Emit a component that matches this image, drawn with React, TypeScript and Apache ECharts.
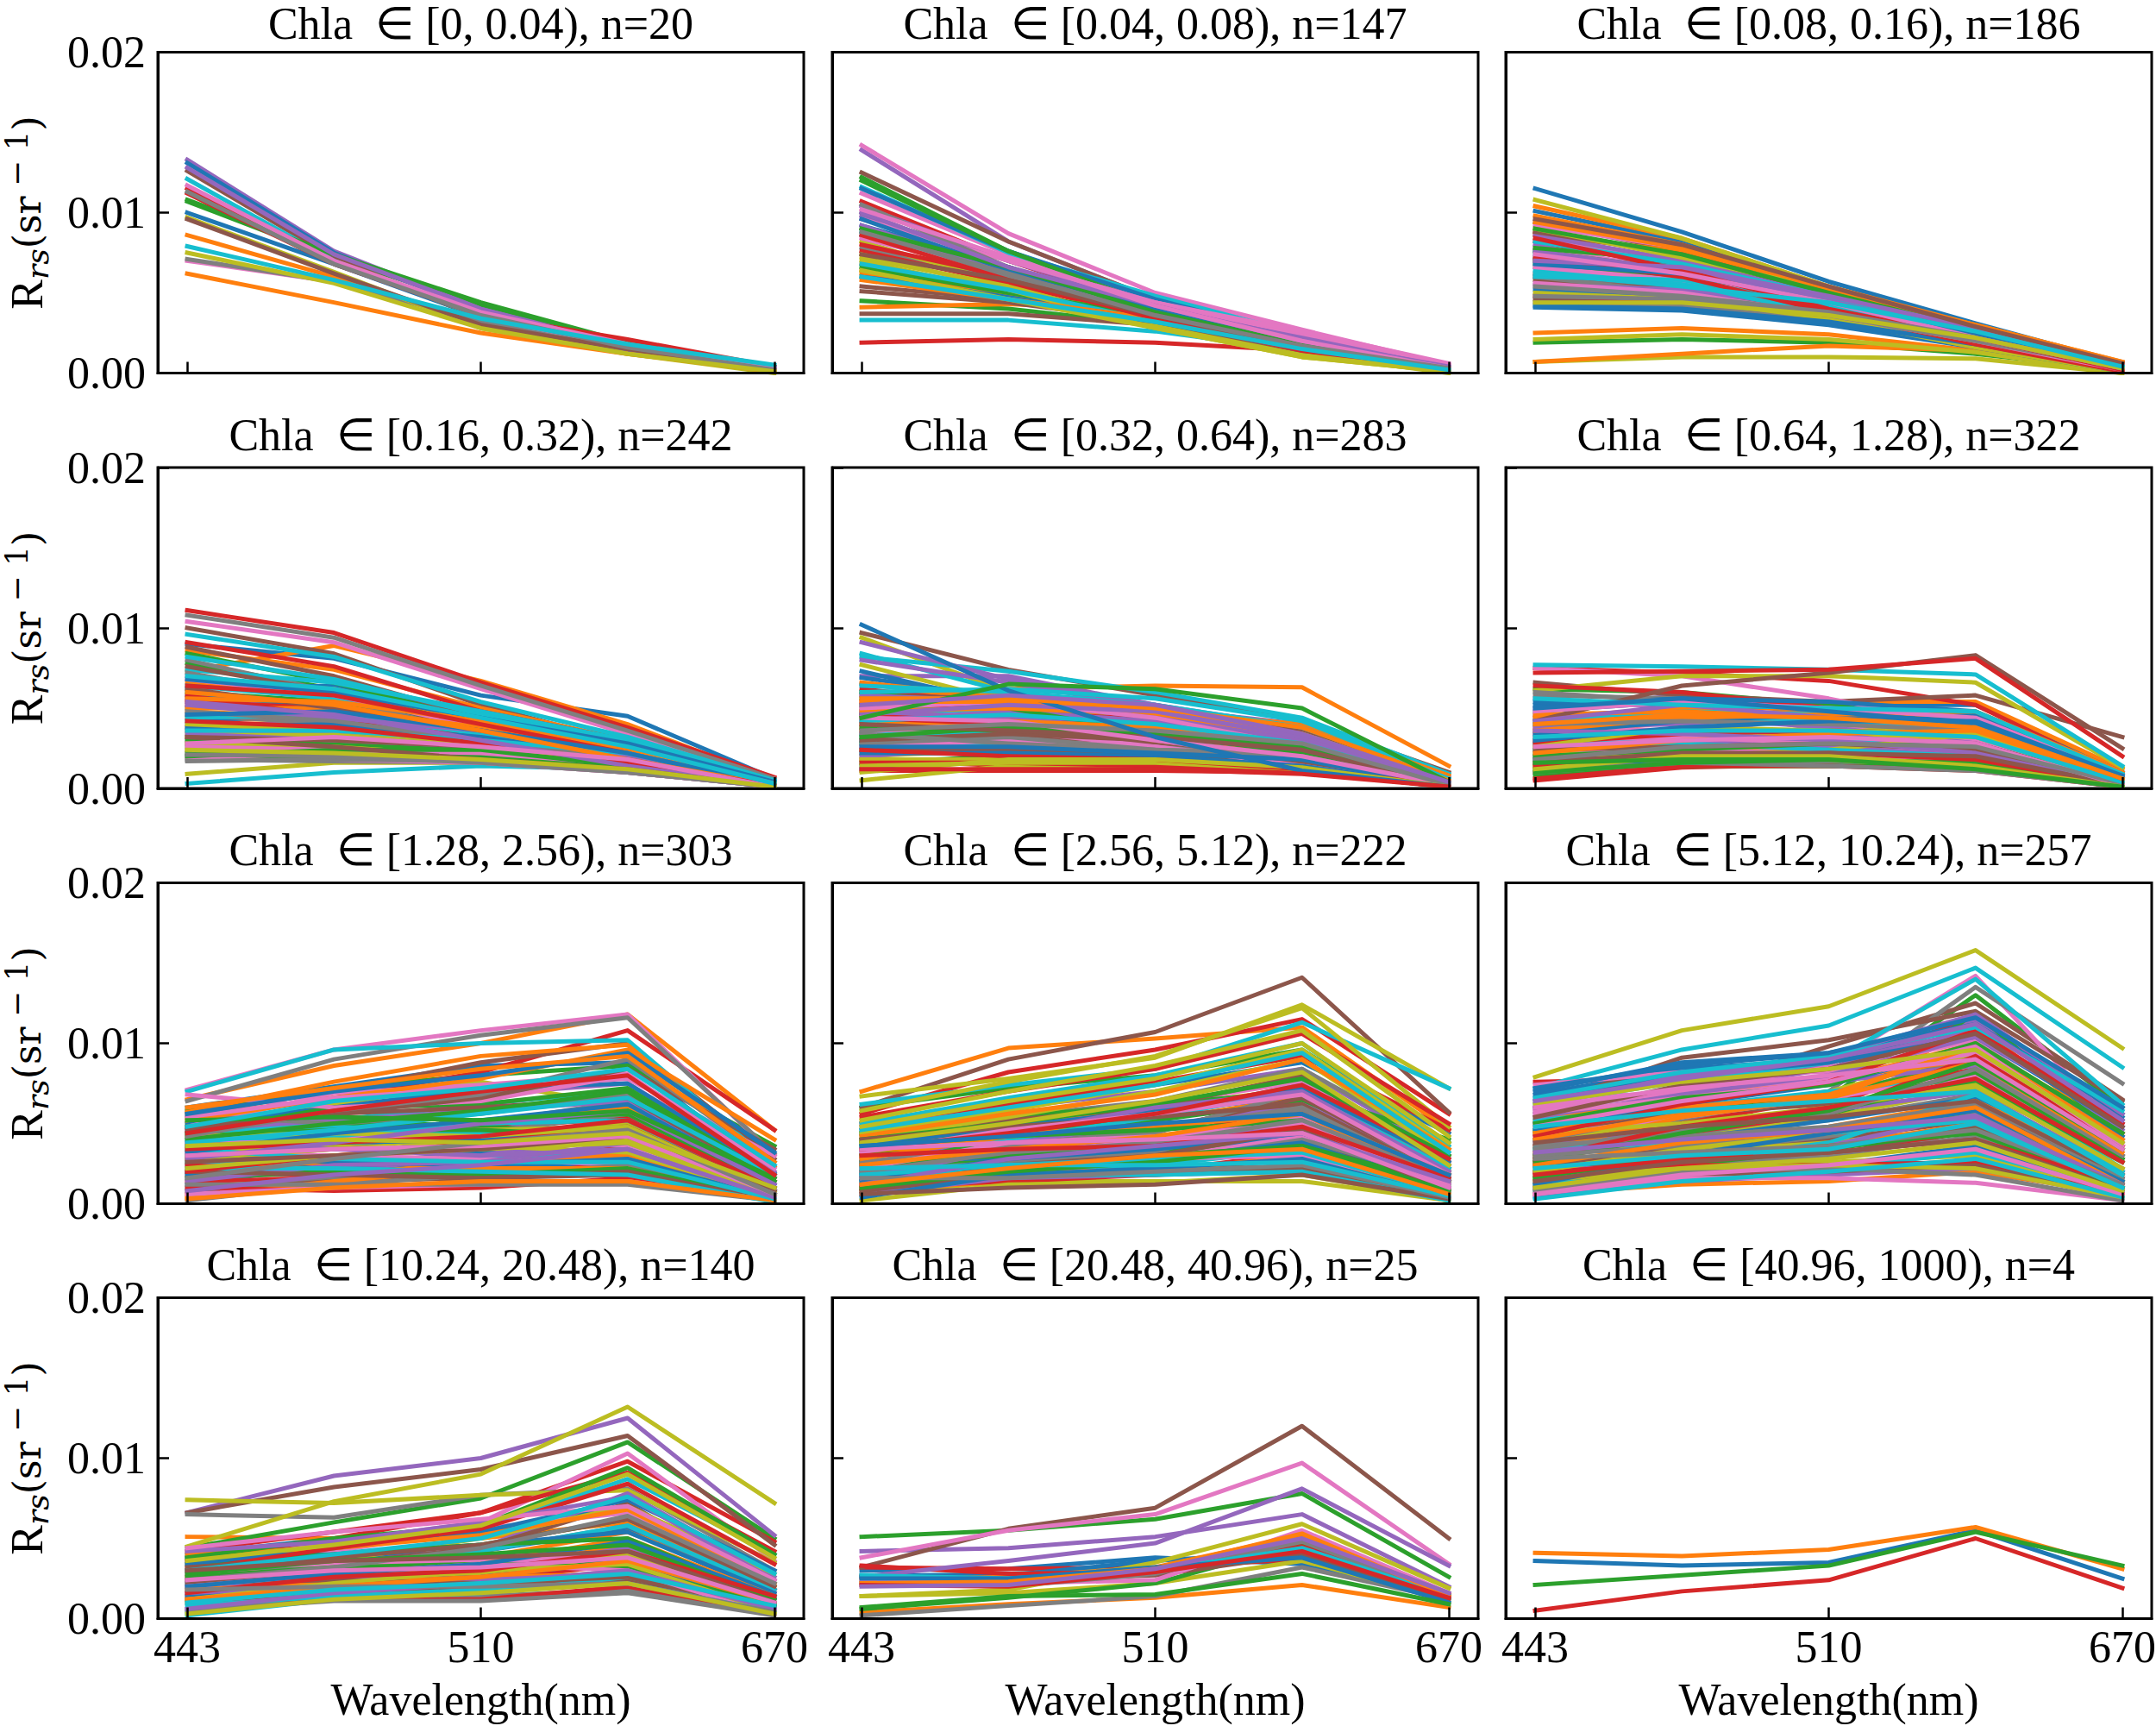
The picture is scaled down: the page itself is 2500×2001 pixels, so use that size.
import React, { useEffect, useRef } from "react";
import * as echarts from "echarts";

// Values are Rrs in units of 1e-4 sr^-1, at the five band positions.
const bandPositions = [0, 1, 2, 3, 4];
const bandTickPositions = [0, 2, 4];
const bandTickLabels = ["443", "510", "670"];
const palette = ["#1f77b4", "#ff7f0e", "#2ca02c", "#d62728", "#9467bd", "#8c564b", "#e377c2", "#7f7f7f", "#bcbd22", "#17becf"];
const chlaRanges = ["[0, 0.04)", "[0.04, 0.08)", "[0.08, 0.16)", "[0.16, 0.32)", "[0.32, 0.64)", "[0.64, 1.28)", "[1.28, 2.56)", "[2.56, 5.12)", "[5.12, 10.24)", "[10.24, 20.48)", "[20.48, 40.96)", "[40.96, 1000)"];
const sampleCounts = [20, 147, 186, 242, 283, 322, 303, 222, 257, 140, 25, 4];

const panel1 = [
  [100,68,35,15,2],[86,60,30,13,2],[107,72,42,18,3],[115,70,37,20,3],[133,76,40,17,3],[126,72,34,14,2],[70,57,32,15,3],[71,57,32,14,2],[97,63,28,12,0],[121,70,35,17,4],
  [131,75,39,16,3],[62,44,25,12,1],[108,74,44,19,3],[112,68,36,21,4],[128,74,40,16,3],[96,62,30,15,2],[117,70,38,18,3],[113,68,36,16,2],[75,56,28,12,1],[79,58,34,18,5],
];
const panel2 = [
  [86,60,36,16,2],[68,50,33,14,2],[45,40,30,14,2],[19,21,19,14,3],[139,82,46,22,4],[125,82,46,20,3],[142,87,50,27,5],[78,58,34,14,2],[82,55,28,10,1],[33,33,26,14,2],
  [92,66,38,16,3],[41,43,39,22,4],[122,76,44,22,3],[107,70,40,18,3],[98,70,42,20,3],[37,37,30,13,1],[112,74,44,24,5],[100,66,38,18,2],[70,50,30,12,1],[116,75,48,24,4],
  [115,76,46,22,4],[62,48,32,15,2],[120,76,42,18,3],[76,56,34,16,3],[104,70,44,22,4],[54,46,36,16,2],[96,70,44,24,4],[105,66,36,16,2],[72,54,30,12,0],[88,64,40,20,3],
  [60,48,34,15,2],[64,50,36,18,3],[66,50,36,20,3],[80,60,38,16,2],[92,62,40,22,3],[51,44,32,14,2],[84,62,44,26,6],[90,60,34,14,1],[74,52,28,10,1],[68,52,32,16,2],
  [96,64,40,18,3],[58,46,34,18,3],[90,66,38,18,2],[86,58,34,14,1],[100,66,42,20,4],[74,58,36,16,1],[102,72,42,20,3],[88,62,36,17,3],[64,46,28,11,1],[60,46,32,15,2],
];
const panel3 = [
  [115,88,57,31,6],[25,28,24,14,2],[19,21,19,12,2],[88,66,44,24,3],[72,60,42,22,3],[94,76,52,28,5],[92,78,52,26,4],[60,52,38,20,2],[7,10,10,9,0],[76,60,40,20,2],
  [101,82,52,26,4],[7,12,17,14,1],[71,62,46,24,3],[82,66,44,22,2],[80,60,40,22,3],[58,52,40,22,3],[86,68,46,24,4],[60,50,36,18,1],[21,24,21,13,0],[74,66,46,24,4],
  [52,48,36,18,2],[104,84,54,30,7],[68,60,42,22,4],[62,54,38,20,2],[55,52,40,24,4],[70,64,48,26,5],[78,64,42,20,2],[66,56,40,22,3],[108,84,54,28,5],[64,56,36,18,2],
  [41,39,30,16,1],[94,78,52,26,4],[76,64,44,24,4],[48,44,34,18,2],[76,64,46,26,5],[46,42,34,18,2],[66,58,44,24,3],[44,42,34,18,1],[50,46,34,16,1],[60,58,42,22,3],
  [42,40,32,18,2],[86,76,50,28,6],[78,70,50,26,4],[72,60,38,18,1],[86,70,48,28,4],[88,74,50,28,6],[56,50,36,20,2],[48,46,36,20,3],[90,72,52,28,5],[82,68,48,26,3],
  [68,62,44,24,3],[98,80,52,30,7],[90,74,50,27,4],[84,64,40,22,2],[70,66,48,28,5],[96,80,54,29,6],[74,62,44,22,3],[54,48,38,22,3],[44,44,36,22,3],[62,54,44,26,4],
];
const panel4 = [
  [90,81,58,45,6],[73,89,67,40,5],[78,62,38,18,3],[111,97,66,38,7],[40,40,30,16,2],[100,84,52,28,3],[104,91,62,34,4],[108,94,64,36,6],[9,16,16,11,1],[3,10,14,12,2],
  [62,64,46,26,3],[86,74,50,30,4],[84,66,42,24,3],[91,76,48,30,5],[30,30,24,12,1],[88,70,44,26,3],[70,60,36,18,2],[18,17,16,10,1],[36,38,30,18,2],[96,82,54,32,5],
  [50,52,40,26,4],[66,62,42,24,3],[26,26,22,12,1],[55,52,36,20,2],[46,42,30,15,1],[38,34,24,12,1],[24,20,17,10,1],[80,60,38,20,2],[32,32,26,16,2],[74,66,48,30,5],
  [58,50,40,24,3],[44,42,32,18,2],[60,54,36,20,3],[52,46,32,18,2],[56,48,36,22,3],[28,28,22,12,1],[22,18,16,10,1],[72,56,34,18,2],[34,34,28,18,2],[64,56,40,24,4],
  [42,46,38,24,3],[48,44,36,22,3],[20,20,18,12,1],[54,50,34,16,1],[36,36,28,16,1],[76,60,36,20,2],[68,58,38,20,2],[46,40,28,14,1],[24,26,22,14,1],[82,68,46,28,4],
  [68,60,44,28,4],[50,50,38,20,2],[30,28,24,14,1],[58,44,30,16,2],[34,30,26,14,1],[62,50,36,22,3],[19,22,18,11,1],[17,18,17,10,1],[28,26,20,12,1],[44,46,34,20,2],
  [38,40,32,20,2],[56,54,42,24,3],[22,24,20,14,1],[64,58,40,22,2],[52,44,36,20,2],[32,30,26,18,2],[26,24,22,15,1],[48,42,30,18,1],[40,36,28,14,1],[36,36,30,22,2],
  [46,48,36,22,2],[60,52,36,18,2],[20,24,24,14,1],[42,38,28,16,2],[54,46,30,14,1],[32,26,18,12,1],[28,32,26,18,1],[21,20,16,10,1],[24,22,18,12,1],[70,62,44,26,3],
];
const panel5 = [
  [65,56,46,30,4],[52,62,64,63,14],[47,44,36,26,2],[11,11,11,10,2],[70,70,52,36,5],[97,74,58,42,10],[48,46,36,24,3],[42,36,26,16,2],[94,60,38,20,3],[82,73,60,44,9],
  [69,56,44,32,4],[60,58,46,34,5],[52,50,42,30,4],[62,52,44,30,3],[91,68,52,38,7],[58,56,48,36,6],[44,48,34,22,2],[30,32,28,20,2],[77,54,36,18,2],[84,60,32,12,2],
  [73,52,40,26,3],[38,34,30,20,2],[56,48,40,28,4],[54,50,42,30,3],[80,66,50,40,6],[50,56,50,38,6],[40,38,32,20,2],[36,34,28,22,2],[24,26,24,16,1],[46,50,46,34,4],
  [30,28,24,14,1],[66,56,48,40,8],[28,30,26,18,1],[46,44,38,24,3],[42,48,42,28,3],[34,32,28,18,1],[38,44,30,18,2],[26,28,26,18,2],[20,24,22,14,1],[64,60,52,38,6],
  [14,18,18,12,1],[36,38,30,22,2],[60,50,34,22,2],[18,14,12,10,1],[48,44,36,28,3],[22,22,20,14,1],[34,36,26,16,1],[32,30,24,16,2],[5,14,14,10,1],[28,26,22,16,2],
  [12,22,22,12,1],[40,42,38,30,3],[16,20,20,14,1],[44,40,34,26,3],[20,26,24,20,2],[24,24,20,16,1],[26,30,26,14,1],[28,32,24,22,3],[18,18,16,10,1],[33,36,32,24,3],
  [22,22,20,14,1],[48,50,46,30,3],[38,36,34,22,2],[16,16,14,10,1],[58,54,44,30,4],[30,34,30,20,2],[50,54,44,26,2],[34,28,24,20,2],[14,16,16,12,1],[42,46,40,28,3],
  [26,26,22,18,1],[54,54,48,34,4],[32,38,34,26,3],[24,20,18,12,2],[46,52,48,32,3],[40,36,32,24,2],[44,42,30,20,2],[36,40,36,28,2],[10,18,18,13,1],[60,62,56,42,6],
  [102,61,32,11,1],[56,56,50,38,5],[44,65,62,50,4],[12,12,12,9,1],[52,58,52,34,4],
];
const panel6 = [
  [48,54,52,52,10],[40,50,54,54,12],[62,60,52,40,6],[75,72,67,52,8],[50,58,50,38,6],[66,58,54,58,32],[75,70,56,38,5],[44,48,46,34,4],[61,70,70,66,13],[77,76,74,71,14],
  [36,42,44,36,4],[32,42,48,46,8],[30,34,36,30,3],[64,60,50,32,4],[56,50,36,26,3],[28,30,34,30,4],[44,46,40,30,3],[58,56,46,34,3],[24,30,34,42,6],[20,26,30,38,5],
  [52,56,54,48,10],[38,46,48,44,8],[26,28,30,24,2],[30,28,26,20,2],[46,44,38,28,3],[34,32,30,28,3],[38,36,34,28,2],[60,54,48,40,6],[16,22,26,24,2],[40,44,42,36,6],
  [22,24,26,22,2],[44,50,50,46,9],[14,18,18,14,1],[10,18,20,16,2],[28,30,26,22,1],[18,20,22,18,1],[34,34,28,20,2],[12,16,18,18,1],[30,36,34,32,4],[42,48,46,40,7],
  [18,16,16,12,1],[26,26,24,18,1],[8,14,14,12,1],[5,13,15,13,1],[32,30,26,20,3],[20,22,20,14,2],[24,24,22,16,1],[16,18,16,16,2],[22,20,18,12,1],[28,32,30,26,3],
  [54,52,50,46,8],[46,48,44,40,5],[12,14,14,13,1],[6,14,14,11,1],[38,40,34,24,2],[42,64,72,83,25],[30,32,28,24,2],[10,16,14,11,1],[14,20,24,34,3],[24,28,24,20,2],
  [34,42,46,42,7],[36,44,46,48,10],[20,24,28,26,2],[28,34,36,34,5],[42,52,44,38,5],[24,26,28,24,3],[48,54,50,44,8],[40,42,40,36,4],[26,38,36,34,4],[56,52,50,48,9],
  [30,38,42,42,8],[22,30,34,36,5],[10,16,18,16,1],[14,20,22,18,2],[36,34,30,22,2],[16,22,22,20,2],[26,30,32,28,2],[18,26,28,26,3],[12,20,20,14,1],[32,36,36,32,4],
  [50,56,48,40,6],[40,46,44,38,6],[16,18,18,12,1],[72,73,74,81,20],
];
const panel7 = [
  [60,73,86,88,19],[65,86,100,118,46],[58,72,80,86,36],[54,66,82,108,46],[46,60,68,75,20],[56,70,88,100,28],[71,96,108,118,30],[64,90,105,116,31],[50,62,76,61,14],[70,96,100,102,24],
  [50,60,72,75,18],[57,76,92,99,23],[44,50,48,55,6],[28,40,48,53,10],[20,28,44,62,8],[36,40,38,50,6],[48,69,74,81,18],[24,36,50,64,8],[30,36,40,50,8],[42,52,62,71,10],
  [12,24,32,40,5],[38,44,50,60,6],[48,52,48,44,8],[18,18,22,36,6],[25,26,28,42,6],[32,40,46,48,5],[40,44,46,40,6],[34,36,44,56,7],[26,36,46,48,8],[44,48,44,38,6],
  [20,22,24,24,3],[6,18,26,32,4],[36,44,52,56,10],[14,16,16,26,3],[16,20,30,46,6],[28,34,34,40,4],[38,42,40,36,5],[10,16,24,28,4],[30,38,42,44,5],[26,28,28,34,4],
  [18,24,26,28,4],[22,26,24,30,3],[42,46,46,42,8],[24,20,18,18,2],[46,52,58,64,12],[8,14,16,18,2],[32,30,28,24,3],[2,12,18,24,3],[34,40,36,32,4],[40,42,50,52,8],
  [30,26,24,28,3],[4,14,22,22,2],[16,20,18,22,3],[10,8,10,16,2],[14,24,26,38,5],[20,18,16,20,2],[6,10,12,14,2],[12,12,12,12,2],[28,34,36,40,5],[22,22,20,18,1],
  [36,38,40,46,6],[3,10,14,14,2],[44,60,62,72,16],[20,30,38,48,8],[38,34,30,34,4],[48,56,60,66,14],[68,60,64,80,22],[55,50,56,68,16],[42,44,42,48,7],[34,28,26,26,3],
  [32,44,52,62,12],[52,66,78,96,40],[40,50,58,70,14],[34,38,42,52,10],[28,38,50,58,12],[46,56,66,84,34],[54,66,72,78,30],[42,58,68,90,26],[22,30,34,38,4],[38,46,56,66,18],
  [56,70,80,94,32],[60,72,84,92,26],[52,54,52,58,16],[44,58,70,80,18],[8,18,24,34,4],[26,30,34,42,8],[30,34,36,42,6],[16,28,38,46,6],[36,40,38,44,10],[48,64,72,84,24],
];
const panel8 = [
  [46,62,74,88,44],[70,97,103,110,46],[60,72,80,96,38],[56,82,96,115,56],[48,60,70,84,30],[60,90,107,141,57],[40,52,62,76,26],[42,54,64,84,34],[67,78,91,124,72],[62,74,84,113,72],
  [44,50,58,66,20],[34,50,60,72,24],[44,54,62,70,40],[50,62,76,92,46],[34,48,58,70,28],[38,52,60,80,22],[26,38,48,60,20],[30,46,56,74,24],[58,76,92,122,48],[50,66,80,100,36],
  [32,40,48,60,18],[30,44,52,66,20],[38,46,52,64,22],[20,28,40,62,14],[28,38,48,62,22],[24,36,46,66,18],[18,30,42,52,16],[22,36,44,70,26],[44,58,74,96,34],[28,40,54,70,22],
  [26,34,38,50,12],[22,30,36,44,14],[30,36,42,54,18],[16,24,32,46,12],[22,32,38,50,18],[12,22,28,40,10],[28,32,40,54,14],[18,30,36,58,20],[40,54,70,90,30],[20,28,34,48,16],
  [24,28,32,42,10],[14,20,24,36,10],[26,30,34,36,10],[12,16,20,32,8],[20,24,28,34,10],[10,16,20,28,6],[16,24,28,42,12],[14,20,26,40,14],[6,14,14,14,2],[16,22,24,34,8],
  [18,24,28,38,8],[8,14,20,30,6],[24,26,30,36,12],[10,14,18,24,6],[6,16,18,20,4],[8,18,18,22,4],[12,20,28,30,8],[20,26,32,60,18],[2,12,13,18,2],[14,18,18,20,2],
  [36,48,58,72,26],[42,56,68,90,34],[40,50,62,78,30],[54,70,84,106,50],[24,44,60,70,20],[40,48,54,62,16],[32,46,56,68,18],[26,36,46,60,14],[52,70,86,108,42],[46,60,74,94,32],
  [14,28,34,44,12],[28,42,48,56,14],[36,42,46,52,14],[34,44,56,74,28],[16,34,42,50,10],[8,24,30,46,8],[22,38,42,50,12],[20,32,38,52,16],[38,50,64,82,24],[18,24,28,32,6],
  [4,18,22,28,4],[24,34,42,56,18],[10,20,26,36,8],[30,34,36,48,16],[12,28,36,44,14],[6,10,12,18,3],[34,38,40,44,10],[16,16,20,24,4],[48,64,78,100,38],[22,24,24,26,5],
  [36,42,50,56,18],[12,22,30,34,6],
];
const panel9 = [
  [60,82,90,114,54],[30,46,60,112,40],[40,54,66,130,60],[76,78,84,116,48],[58,70,84,114,60],[50,70,98,125,65],[66,69,86,142,44],[45,58,70,135,75],[79,108,123,158,97],[72,96,111,147,85],
  [68,84,90,106,52],[52,66,76,100,44],[20,40,56,119,40],[30,44,60,96,36],[56,72,88,108,46],[60,91,102,120,64],[74,82,82,102,40],[40,52,66,92,34],[36,54,70,94,38],[62,76,88,140,62],
  [64,80,88,104,48],[48,66,78,90,30],[46,56,68,88,30],[36,50,66,84,34],[50,62,76,86,28],[44,56,62,72,26],[58,70,78,94,42],[32,44,52,68,20],[28,40,54,72,26],[52,60,70,78,22],
  [22,40,52,66,20],[18,36,48,64,22],[34,46,56,78,28],[20,32,42,60,18],[38,46,58,70,20],[26,34,40,52,16],[42,54,66,80,30],[24,32,42,56,16],[22,32,38,48,10],[10,26,38,68,20],
  [16,20,24,36,8],[12,24,36,50,12],[28,44,58,76,26],[14,22,28,46,14],[20,28,36,56,16],[24,26,30,48,10],[10,16,18,26,6],[18,24,30,42,10],[14,22,26,30,6],[12,18,22,32,8],
  [8,20,24,26,4],[6,12,14,20,6],[16,24,34,46,10],[20,24,24,26,6],[4,14,18,22,4],[10,18,20,24,4],[6,16,16,13,2],[8,20,22,18,2],[16,22,24,22,4],[3,14,20,28,4],
  [46,62,74,98,42],[32,54,66,100,36],[30,48,60,82,28],[26,44,56,92,36],[54,68,80,104,50],[24,34,46,60,14],[56,66,76,96,38],[36,42,48,62,18],[44,50,60,74,22],[34,38,44,52,14],
  [70,88,94,112,56],[44,60,68,98,40],[50,66,74,100,44],[42,62,76,108,50],[60,80,92,118,56],[54,74,84,106,48],[48,64,76,98,36],[34,46,56,84,30],[62,76,84,96,38],[66,82,92,110,58],
  [72,86,94,116,60],[40,56,66,88,32],[26,44,58,88,34],[28,48,60,78,26],[64,78,90,112,52],[38,48,54,64,18],[60,72,80,90,34],[30,36,44,58,16],[20,34,44,58,14],[48,58,64,70,18],
  [12,30,44,58,14],[24,38,46,60,12],[16,30,36,44,10],[18,28,32,40,12],[32,40,46,54,12],[14,26,32,40,8],[6,18,24,34,6],[28,32,36,46,12],[10,22,28,38,8],[22,30,34,50,10],
];
const panel10 = [
  [40,50,54,70,18],[51,50,50,60,20],[44,60,75,110,50],[42,54,66,98,48],[66,89,100,125,52],[66,82,93,114,46],[38,48,60,103,36],[65,63,77,81,30],[74,72,77,80,35],[38,44,56,87,40],
  [36,38,42,56,14],[32,34,38,54,20],[30,40,46,62,22],[36,50,66,91,42],[26,34,44,78,26],[24,34,44,72,18],[34,42,56,66,24],[28,34,42,58,16],[45,73,90,132,72],[22,30,42,58,18],
  [18,26,32,44,10],[30,28,30,46,14],[20,24,28,38,10],[14,18,22,30,6],[22,26,30,44,12],[24,26,26,34,8],[32,34,36,48,16],[10,14,18,26,6],[30,36,50,70,28],[4,16,22,36,10],
  [38,40,46,54,16],[26,30,34,50,14],[34,40,46,50,12],[16,20,24,34,8],[20,24,28,40,12],[12,16,20,24,4],[28,30,34,42,10],[6,12,14,18,4],[10,22,28,40,8],[2,12,16,26,6],
  [14,22,26,36,8],[18,22,26,28,6],[26,32,34,32,8],[12,12,12,20,4],[16,20,24,28,6],[22,24,22,26,4],[20,28,34,30,2],[5,11,11,16,2],[12,22,30,34,4],[8,14,18,22,4],
  [34,44,54,74,30],[40,44,52,68,22],[38,50,58,94,40],[30,44,56,84,34],[42,48,60,76,24],[32,38,46,62,20],[44,54,62,70,24],[24,32,44,64,22],[36,46,58,90,38],[30,40,50,76,28],
  [20,28,34,48,14],[12,20,26,36,10],[28,36,40,46,12],[16,26,30,42,14],[6,16,22,30,6],[30,36,38,42,10],[24,30,32,38,10],[18,20,20,22,4],[3,12,16,22,3],[10,18,22,28,8],
];
const panel11 = [
  [30,31,38,34,14],[4,9,13,21,7],[51,55,62,78,26],[32,31,32,37,14],[42,44,51,65,20],[32,56,69,120,50],[38,55,65,97,34],[2,8,14,32,12],[14,16,22,36,12],[26,28,31,46,13],
  [27,27,36,42,12],[24,26,32,52,15],[6,13,22,47,15],[33,28,29,45,15],[26,36,47,81,33],[26,24,27,40,12],[23,22,24,55,16],[22,20,28,48,14],[14,18,35,59,19],[27,25,30,44,14],
  [25,25,32,38,10],[22,23,31,53,14],[7,14,15,28,9],[21,20,29,42,13],[20,21,31,50,16],
];
const panel12 = [
  [36,33,35,55,25],[41,39,43,57,31],[21,27,33,54,33],[5,17,24,50,19],
];
const panels = [panel1, panel2, panel3, panel4, panel5, panel6, panel7, panel8, panel9, panel10, panel11, panel12];

const valueUnit = 10000;
const yTickFormat = (v: number) => v.toFixed(2);
const serif = "Liberation Serif";

function buildOption() {
  const lefts = [183, 965, 1746];
  const tops = [60.5, 542, 1023.5, 1504.5];
  const w = 749;
  const h = 372;
  const grid: any[] = [], xAxis: any[] = [], yAxis: any[] = [], title: any[] = [], series: any[] = [];
  panels.forEach((lines, p) => {
    const col = p % 3;
    const row = Math.floor(p / 3);
    grid.push({ left: lefts[col], top: tops[row], width: w, height: h, show: true, borderColor: "#000", borderWidth: 3, backgroundColor: "#fff", containLabel: false, outerBoundsMode: "none" });
    title.push({
      text: `Chla  ∈ ${chlaRanges[p]}, n=${sampleCounts[p]}`,
      left: lefts[col] + w / 2,
      top: row === 0 ? 6 : tops[row] - 59,
      textAlign: "center",
      textStyle: { fontFamily: serif, fontSize: 52, fontWeight: "normal", color: "#000", lineHeight: 42 },
      padding: 0,
    });
    xAxis.push({
      type: "value", gridIndex: p, min: -0.2, max: 4.2, z: 5,
      splitLine: { show: false },
      axisLine: { show: true, onZero: false, lineStyle: { color: "#000", width: 3 } },
      axisTick: { show: true, inside: true, length: 13, customValues: bandTickPositions, lineStyle: { color: "#000", width: 2.5 } },
      axisLabel: {
        show: row === 3, customValues: bandTickPositions, margin: 7, hideOverlap: false, showMinLabel: true, showMaxLabel: true,
        fontFamily: serif, fontSize: 52, color: "#000",
        formatter: (v: number) => bandTickLabels[bandTickPositions.indexOf(v)] ?? "",
      },
      name: row === 3 ? "Wavelength(nm)" : "",
      nameLocation: "middle", nameGap: 68,
      nameTextStyle: { fontFamily: serif, fontSize: 52, color: "#000" },
    });
    yAxis.push({
      type: "value", gridIndex: p, min: 0, max: 0.02, interval: 0.01, z: 5,
      splitLine: { show: false },
      axisLine: { show: true, onZero: false, lineStyle: { color: "#000", width: 3 } },
      axisTick: { show: true, inside: true, length: 13, lineStyle: { color: "#000", width: 2.5 } },
      axisLabel: { show: col === 0, margin: 14, fontFamily: serif, fontSize: 52, color: "#000", formatter: yTickFormat },
      name: col === 0 ? "{r|R}{s|rs}{m|(sr}{u| − 1}{m|)}" : "",
      nameLocation: "middle", nameGap: 122, nameRotate: 90,
      nameTextStyle: {
        color: "#000",
        rich: {
          r: { fontFamily: serif, fontSize: 52, lineHeight: 60, verticalAlign: "middle" },
          s: { fontFamily: "DejaVu Serif", fontStyle: "italic", fontSize: 36, lineHeight: 60, verticalAlign: "bottom" },
          m: { fontFamily: "DejaVu Serif", fontSize: 44, lineHeight: 60, verticalAlign: "middle" },
          u: { fontFamily: "DejaVu Serif", fontSize: 36, lineHeight: 60, verticalAlign: "top" },
        },
      },
    });
    lines.forEach((values, i) => {
      series.push({
        type: "line", xAxisIndex: p, yAxisIndex: p, z: 2, silent: true, showSymbol: false, symbol: "none",
        data: values.map((v, k) => [bandPositions[k], v / valueUnit]),
        lineStyle: { color: palette[i % palette.length], width: 5, join: "round", cap: "square" },
      });
    });
  });
  return { animation: false, backgroundColor: "#fff", tooltip: { show: false }, legend: { show: false }, grid, xAxis, yAxis, title, series };
}

export default function App() {
  const ref = useRef<HTMLDivElement>(null);
  useEffect(() => {
    document.body.style.margin = "0";
    const chart = echarts.init(ref.current!, undefined, { renderer: "svg" });
    chart.setOption(buildOption() as any);
    return () => chart.dispose();
  }, []);
  return <div ref={ref} style={{ position: "absolute", left: 0, top: 0, width: 2500, height: 2001, background: "#fff" }} />;
}
